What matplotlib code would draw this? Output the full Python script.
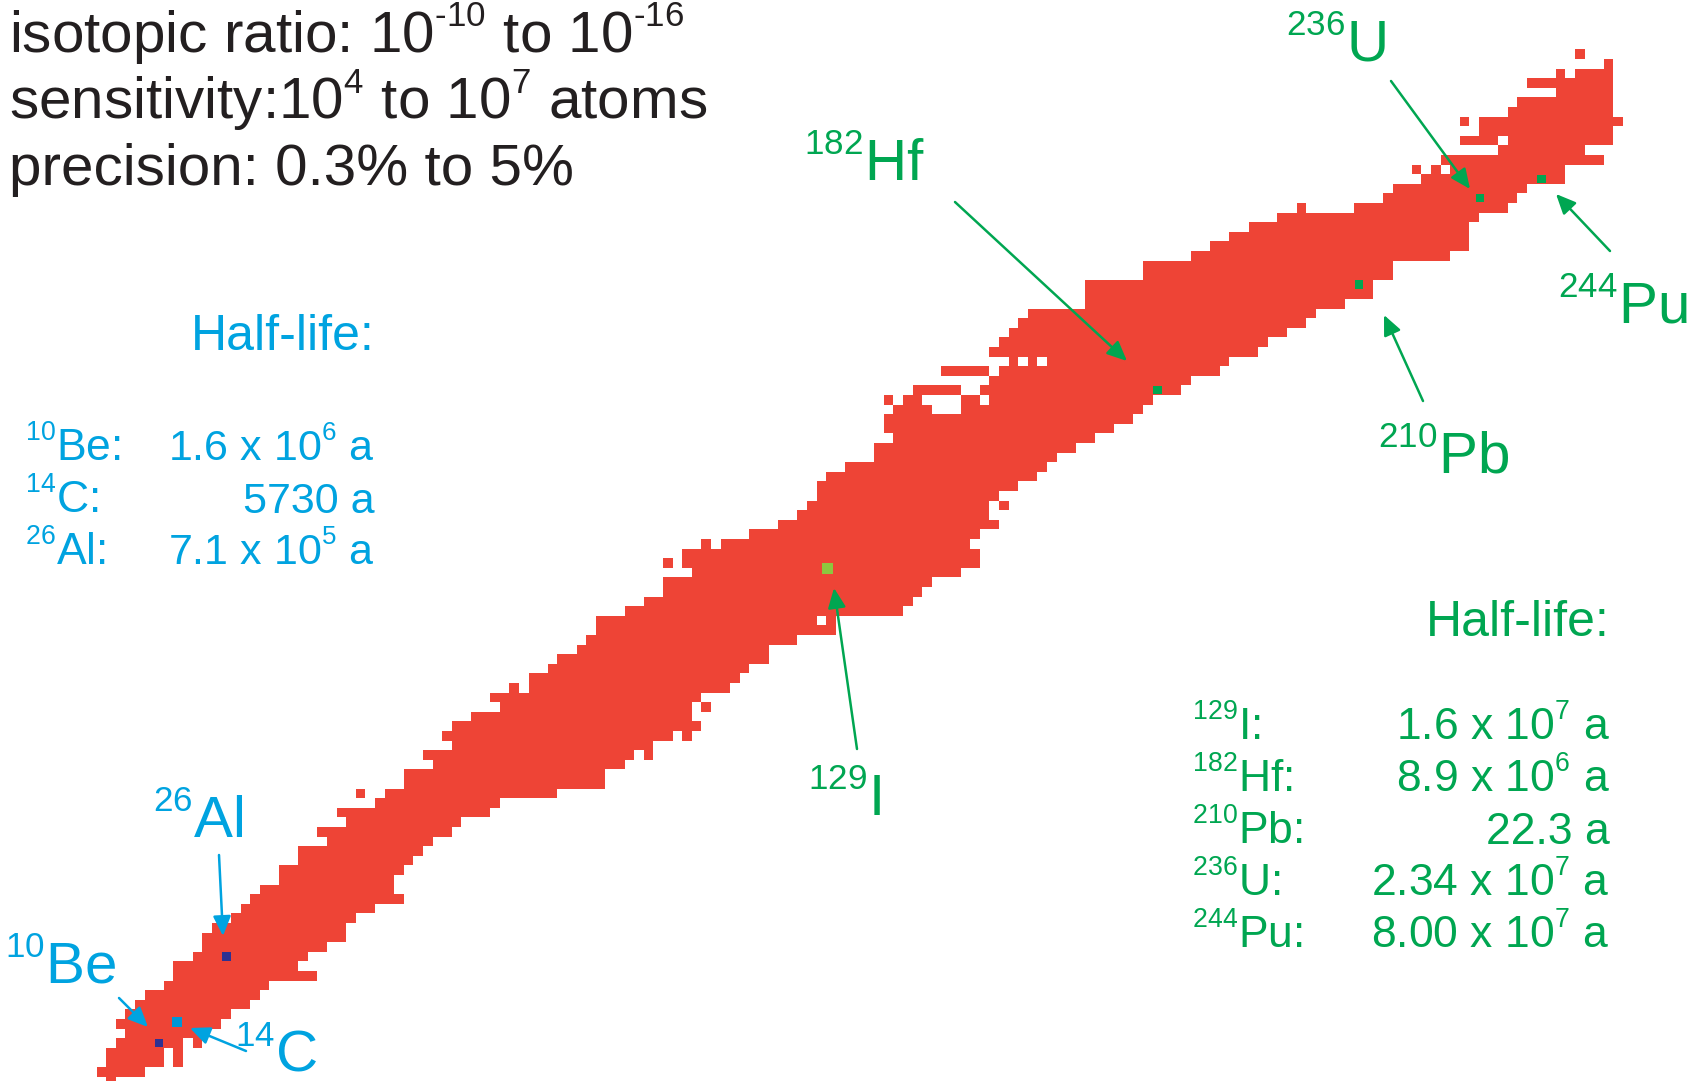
import numpy as np
import matplotlib
matplotlib.use('Agg')
import matplotlib.pyplot as plt
import matplotlib._mathtext as mathtext_internal
from matplotlib.colors import ListedColormap

plt.rcParams['font.family'] = ['Liberation Sans', 'DejaVu Sans']
plt.rcParams['mathtext.fontset'] = 'custom'
plt.rcParams['mathtext.rm'] = 'Liberation Sans'
plt.rcParams['mathtext.default'] = 'regular'
# the source uses small, high superscripts
mathtext_internal.SHRINK_FACTOR = 0.6
mathtext_internal.FontConstantsBase.sup1 = 0.85

# chart of nuclides: for each Z the lightest and heaviest N shown
z_rows = list(range(0, 108))
n_lo = [1, 0, 1, 1, 2, 3, 2, 3, 4, 5,
        7, 8, 8, 10, 11, 11, 12, 14, 15, 16,
        17, 19, 19, 21, 21, 24, 23, 26, 25, 29,
        27, 32, 32, 35, 34, 37, 36, 37, 39, 42,
        41, 43, 45, 47, 48, 50, 51, 52, 52, 55,
        57, 59, 59, 62, 59, 61, 63, 68, 71, 73,
        74, 75, 75, 76, 78, 81, 81, 83, 82, 82,
        83, 82, 85, 93, 88, 95, 93, 94, 95, 96,
        97, 103, 103, 103, 109, 109, 114, 116, 118, 120,
        123, 125, 134, 135, 138, 137, 140, 146, 142, 144,
        142, 147, 148, 152, 149, 152, 157, 154]
n_hi = [1, 4, 8, 8, 10, 10, 12, 13, 15, 16,
        17, 22, 20, 21, 23, 25, 25, 26, 28, 31,
        30, 30, 31, 32, 33, 34, 36, 37, 40, 41,
        47, 52, 52, 54, 57, 57, 61, 62, 61, 63,
        62, 65, 66, 67, 69, 69, 72, 76, 76, 83,
        84, 85, 86, 89, 91, 91, 90, 91, 93, 92,
        94, 93, 95, 97, 98, 99, 101, 103, 105, 107,
        108, 109, 112, 113, 116, 117, 120, 121, 123, 125,
        126, 129, 132, 132, 134, 134, 140, 142, 142, 142,
        143, 146, 147, 148, 152, 152, 156, 154, 157, 157,
        158, 157, 157, 157, 157, 157, 157, 154]
# (Z, N) cells missing inside the ranges above
holes_z = [2, 3, 4, 30, 30, 34, 36, 39, 41, 48, 54, 56, 60,
           70, 70, 70, 71, 71, 71, 71, 71, 71, 72, 72, 74, 75, 75,
           91, 91, 91, 91, 91, 95, 95, 98, 100, 105]
holes_n = [7, 7, 9, 28, 29, 56, 60, 62, 44, 75, 60, 64, 93,
           87, 88, 89, 83, 86, 87, 88, 89, 92, 90, 91, 93, 96, 98,
           126, 127, 128, 129, 130, 138, 140, 146, 143, 153]

# AMS isotopes marked on the chart
iso_names = ['10Be', '14C', '26Al', '129I', '182Hf', '210Pb', '236U', '244Pu']
iso_n = [6, 7.9, 13, 75.6, 110, 131, 143.6, 150]
iso_z = [4, 6.2, 13, 53.4, 72, 83, 92, 94]

RED = '#ee4436'
BLUE = '#00a3e0'
GREEN = '#00a651'
DARK = '#231f20'

W, H = 1691, 1081
fig = plt.figure(figsize=(W / 100, H / 100), dpi=100)
fig.patch.set_facecolor('white')
ax = fig.add_axes([0, 0, 1, 1])
ax.set_xlim(-10.5625, 165.58)
ax.set_ylim(0.042, 112.65)
ax.axis('off')

grid = np.zeros((len(z_rows), 162))
for z, lo, hi in zip(z_rows, n_lo, n_hi):
    grid[z, lo:hi + 1] = 1
for z, n in zip(holes_z, holes_n):
    grid[z, n] = 0
cells = np.ma.masked_equal(grid, 0)
ax.pcolormesh(np.arange(-0.5, 162), np.arange(-0.5, len(z_rows)), cells,
              cmap=ListedColormap([RED]), vmin=0, vmax=1,
              antialiased=False, edgecolors='none')

mk_colors = ['#2e3192', '#0096d6', '#2e3192', '#8dc63f',
             GREEN, GREEN, GREEN, GREEN]
mk_sizes = [40, 52, 40, 62, 36, 36, 36, 36]
ax.scatter(iso_n, iso_z, s=mk_sizes, c=mk_colors, marker='s',
           linewidths=0, zorder=3)


def fx(x):
    return x / W


def fy(y):
    return 1 - y / H


# header text
fs_top = 42
fig.text(fx(9), fy(53), 'isotopic ratio: 10$^{‐10}$ to 10$^{‐16}$',
         fontsize=fs_top, color=DARK, va='baseline')
fig.text(fx(9), fy(119), 'sensitivity:10$^{4}$ to 10$^{7}$ atoms',
         fontsize=fs_top, color=DARK, va='baseline')
fig.text(fx(9), fy(185), 'precision: 0.3% to 5%',
         fontsize=fs_top, color=DARK, va='baseline')

# half-life tables
fig.text(fx(375), fy(350), 'Half-life:', fontsize=36, color=BLUE,
         ha='right', va='baseline')
blue_labels = ['$^{10}$Be:', '$^{14}$C:', '$^{26}$Al:']
blue_vals = ['1.6 x 10$^{6}$ a', '5730 a', '7.1 x 10$^{5}$ a']
for i, (lab, val) in enumerate(zip(blue_labels, blue_vals)):
    y = 461 + i * 52
    fig.text(fx(25), fy(y), lab, fontsize=32, color=BLUE, va='baseline')
    fig.text(fx(375), fy(y), val, fontsize=31, color=BLUE,
             ha='right', va='baseline')

fig.text(fx(1610), fy(636), 'Half-life:', fontsize=36, color=GREEN,
         ha='right', va='baseline')
green_labels = ['$^{129}$I:', '$^{182}$Hf:', '$^{210}$Pb:', '$^{236}$U:', '$^{244}$Pu:']
green_vals = ['1.6 x 10$^{7}$ a', '8.9 x 10$^{6}$ a', '22.3 a',
              '2.34 x 10$^{7}$ a', '8.00 x 10$^{7}$ a']
for i, (lab, val) in enumerate(zip(green_labels, green_vals)):
    y = 740 + i * 51.8
    fig.text(fx(1192), fy(y), lab, fontsize=32, color=GREEN, va='baseline')
    fig.text(fx(1610), fy(y), val, fontsize=32, color=GREEN,
             ha='right', va='baseline')

# isotope labels with arrows: label pos, arrow tail, arrow tip (pixels)
labels = [
    ('$^{236}$U', GREEN, (1286, 61), (1391, 81), (1470, 189)),
    ('$^{182}$Hf', GREEN, (804, 181), (955, 202), (1127, 361)),
    ('$^{244}$Pu', GREEN, (1558, 323), (1610, 251), (1556, 194)),
    ('$^{210}$Pb', GREEN, (1378, 474), (1423, 401), (1384, 315)),
    ('$^{129}$I', GREEN, (808, 816), (857, 749), (834, 588)),
    ('$^{26}$Al', BLUE, (153, 838), (219, 855), (223, 936)),
    ('$^{10}$Be', BLUE, (5, 983), (119, 998), (148, 1027)),
    ('$^{14}$C', BLUE, (235, 1071), (246, 1051), (190, 1028)),
]
for text, col, (tx, ty), (ax0, ay0), (ax1, ay1) in labels:
    fig.text(fx(tx), fy(ty), text, fontsize=42, color=col, va='baseline')
    ax.annotate('', xy=(ax1, H - ay1), xycoords='figure pixels',
                xytext=(ax0, H - ay0), textcoords='figure pixels',
                arrowprops=dict(arrowstyle='-|>,head_length=0.6,head_width=0.27',
                                mutation_scale=20, lw=1.8, color=col,
                                shrinkA=0, shrinkB=0))

fig.savefig('out.png', dpi=100, facecolor='white')
